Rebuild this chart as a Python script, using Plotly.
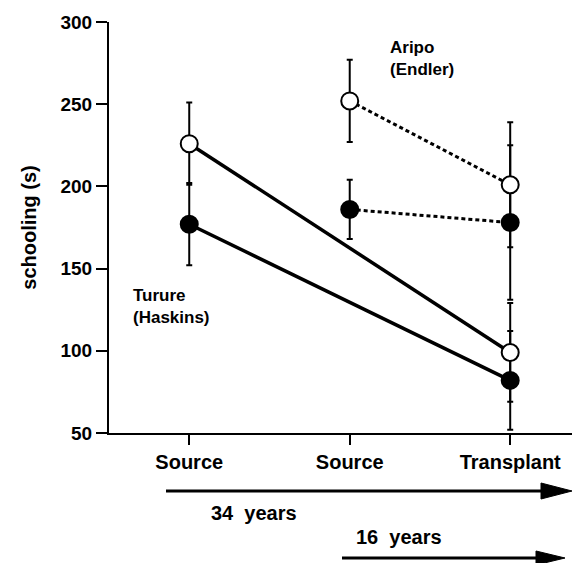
import plotly.graph_objects as go

# ---- data ----
tick_positions = [0, 1, 2]
tick_labels = ["Source", "Source", "Transplant"]
y_ticks = [50, 100, 150, 200, 250, 300]

turure_x = [0, 2]
turure_open = [226, 99]
turure_open_err = [25, 30]
turure_filled = [177, 82]
turure_filled_err = [25, 30]

aripo_x = [1, 2]
aripo_open = [252, 201]
aripo_open_err = [25, 38]
aripo_filled = [186, 178]
aripo_filled_err = [18, 47]

W_FIG, H_FIG = 580, 563
L, R, T, B = 109, 8, 22, 130
PW, PH = W_FIG - L - R, H_FIG - T - B
FONT = "Liberation Sans, Arial, Helvetica, sans-serif"


def px(x):
    return (x - L) / PW


def py(y):
    return (H_FIG - B - y) / PH


series = [
    (turure_x, turure_open, turure_open_err, "white", "solid"),
    (turure_x, turure_filled, turure_filled_err, "black", "solid"),
    (aripo_x, aripo_open, aripo_open_err, "white", "4px,3px"),
    (aripo_x, aripo_filled, aripo_filled_err, "black", "4px,3px"),
]

fig = go.Figure()
# error bars first
for xs, ys, es, fill, dash in series:
    fig.add_trace(go.Scatter(
        x=xs, y=ys, mode="markers",
        marker=dict(size=1, color="rgba(0,0,0,0)"),
        error_y=dict(type="data", array=es, visible=True, color="black",
                     thickness=2, width=3),
        showlegend=False, hoverinfo="skip"))
# connecting lines
for xs, ys, es, fill, dash in series:
    fig.add_trace(go.Scatter(
        x=xs, y=ys, mode="lines",
        line=dict(color="black", width=3.5 if dash == "solid" else 3, dash=dash),
        showlegend=False, hoverinfo="skip"))
# markers on top
for xs, ys, es, fill, dash in series:
    fig.add_trace(go.Scatter(
        x=xs, y=ys, mode="markers",
        marker=dict(size=17, color=fill, line=dict(color="black", width=2)),
        showlegend=False))

fig.update_layout(
    width=W_FIG, height=H_FIG,
    margin=dict(l=L, r=R, t=T, b=B, pad=0),
    paper_bgcolor="white", plot_bgcolor="white",
    font=dict(family=FONT, color="black"),
    showlegend=False,
    xaxis=dict(
        range=[-0.5, 2.385], tickmode="array", tickvals=tick_positions,
        ticktext=tick_labels, showline=True, linecolor="black", linewidth=2,
        ticks="outside", ticklen=10, tickwidth=2, tickcolor="black",
        showgrid=False, zeroline=False,
        tickfont=dict(size=20, family=FONT, weight="bold", color="black"),
    ),
    yaxis=dict(
        range=[50, 300], tickmode="array", tickvals=y_ticks,
        showline=True, linecolor="black", linewidth=2,
        ticks="outside", ticklen=11, tickwidth=2, tickcolor="black",
        showgrid=False, zeroline=False,
        tickfont=dict(size=19, family=FONT, weight="bold", color="black"),
        title=dict(text="schooling (s)", standoff=18,
                   font=dict(size=20, family=FONT, weight="bold", color="black")),
    ),
)

# text labels
fig.add_annotation(x=px(131), y=py(284), xref="paper", yref="paper",
                   text="Turure<br>(Haskins)", showarrow=False, align="left",
                   xanchor="left", yanchor="top",
                   font=dict(size=17, family=FONT, weight="bold"))
fig.add_annotation(x=px(388), y=py(36), xref="paper", yref="paper",
                   text="Aripo<br>(Endler)", showarrow=False, align="left",
                   xanchor="left", yanchor="top",
                   font=dict(size=17, family=FONT, weight="bold"))
fig.add_annotation(x=px(209), y=py(513), xref="paper", yref="paper",
                   text="34&nbsp;&nbsp;years", showarrow=False, xanchor="left",
                   yanchor="middle",
                   font=dict(size=20, family=FONT, weight="bold"))
fig.add_annotation(x=px(354), y=py(537), xref="paper", yref="paper",
                   text="16&nbsp;&nbsp;years", showarrow=False, xanchor="left",
                   yanchor="middle",
                   font=dict(size=20, family=FONT, weight="bold"))

# time arrows
def arrow(x0, x1, y, head_len, half_h):
    fig.add_shape(type="line", xref="paper", yref="paper",
                  x0=px(x0), x1=px(x1 - head_len + 2), y0=py(y), y1=py(y),
                  line=dict(color="black", width=3))
    path = "M {} {} L {} {} L {} {} Z".format(
        px(x1 - head_len), py(y - half_h), px(x1), py(y),
        px(x1 - head_len), py(y + half_h))
    fig.add_shape(type="path", xref="paper", yref="paper", path=path,
                  fillcolor="black", line=dict(color="black", width=1))

arrow(166, 572, 491, 31, 8)
arrow(342, 565, 558, 29, 7)

fig.write_html("out.html")
